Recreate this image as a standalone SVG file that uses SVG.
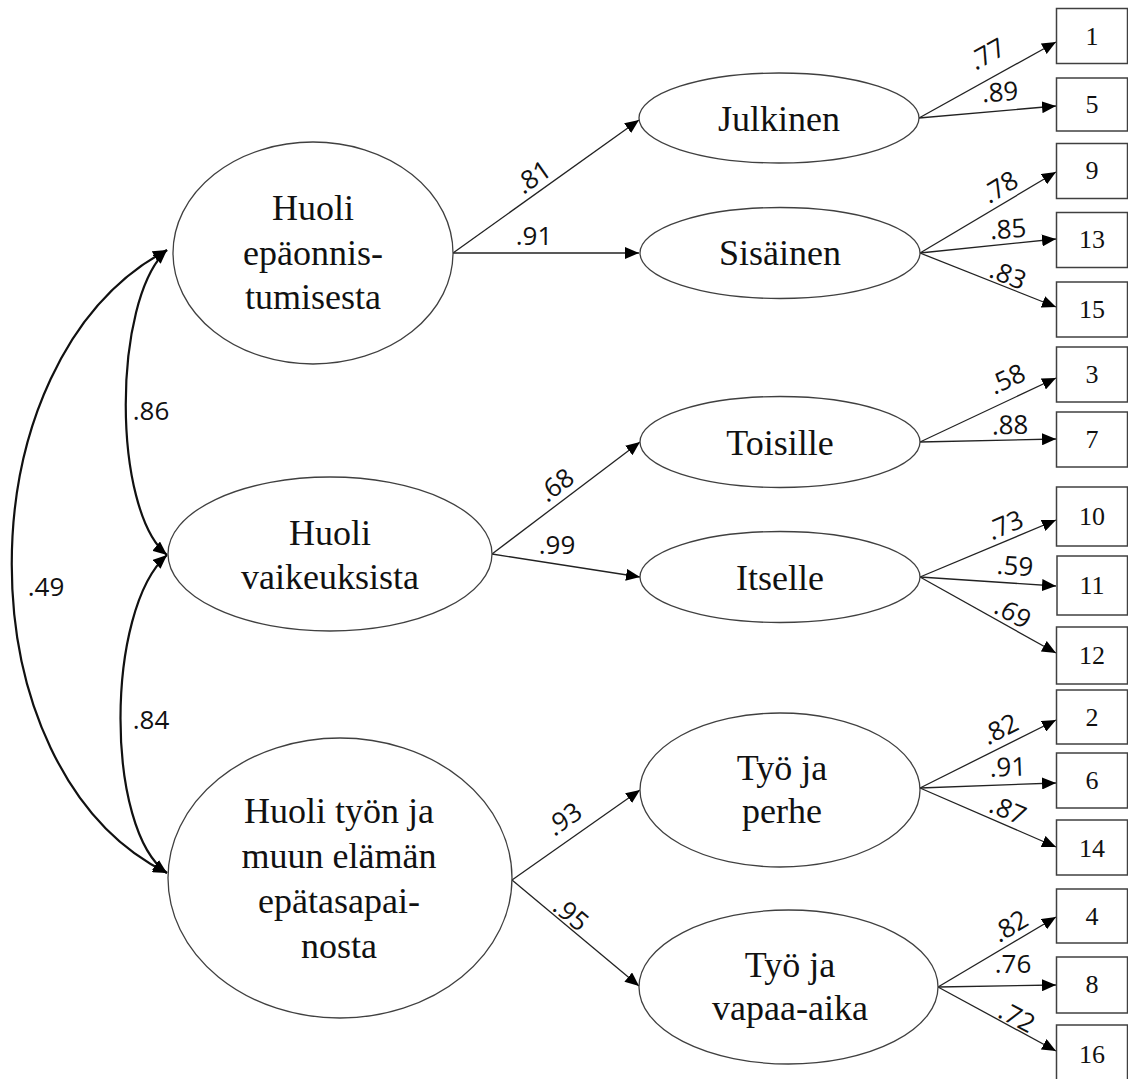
<svg xmlns="http://www.w3.org/2000/svg" width="1128" height="1079" viewBox="0 0 1128 1079">
<style>
.node ellipse{fill:#fff;stroke:#404040;stroke-width:1.3}
.box rect{fill:#fff;stroke:#404040;stroke-width:1.5}
.t{font-family:"Liberation Serif","Times New Roman",serif;font-size:36px;fill:#111;text-anchor:middle}
.bt{font-family:"Liberation Serif","Times New Roman",serif;font-size:26px;fill:#111;text-anchor:middle}
.lab{font-family:"Open Sans","DejaVu Sans",sans-serif;font-size:26px;fill:#111;text-anchor:middle}
.ln{stroke:#222;stroke-width:1.3;fill:none;marker-end:url(#ah)}
.cv{stroke:#111;stroke-width:2.2;fill:none;marker-start:url(#ahc);marker-end:url(#ahc)}
</style>
<defs>
<marker id="ah" viewBox="0 0 14 12" refX="14" refY="6" markerWidth="14" markerHeight="12" markerUnits="userSpaceOnUse" orient="auto"><path d="M0,0 L14,6 L0,12 z" fill="#000"/></marker>
<marker id="ahc" viewBox="0 0 14 12" refX="14" refY="6" markerWidth="14" markerHeight="12" markerUnits="userSpaceOnUse" orient="auto-start-reverse"><path d="M0,0 L14,6 L0,12 z" fill="#000"/></marker>
</defs>
<rect width="1128" height="1079" fill="#fff"/>

<g id="connectors">
<path class="cv" d="M167,250 C112,300 112,510 167,555"/>
<path class="cv" d="M167,555 C105,610 105,830 167,873"/>
<path class="cv" d="M167,250 C-40,360 -40,770 167,873"/>
<line class="ln" x1="453" y1="253" x2="639" y2="120"/>
<line class="ln" x1="453" y1="253" x2="639" y2="253"/>
<line class="ln" x1="492" y1="554" x2="640" y2="442"/>
<line class="ln" x1="492" y1="554" x2="640" y2="577"/>
<line class="ln" x1="512" y1="880" x2="640" y2="790"/>
<line class="ln" x1="512" y1="880" x2="639" y2="986"/>
<line class="ln" x1="919" y1="118" x2="1056" y2="42"/>
<line class="ln" x1="919" y1="118" x2="1056" y2="106"/>
<line class="ln" x1="920" y1="253" x2="1056" y2="172"/>
<line class="ln" x1="920" y1="253" x2="1056" y2="239"/>
<line class="ln" x1="920" y1="253" x2="1056" y2="307"/>
<line class="ln" x1="920" y1="442" x2="1056" y2="378"/>
<line class="ln" x1="920" y1="442" x2="1056" y2="439"/>
<line class="ln" x1="920" y1="577" x2="1056" y2="520"/>
<line class="ln" x1="920" y1="577" x2="1056" y2="586"/>
<line class="ln" x1="920" y1="577" x2="1056" y2="653"/>
<line class="ln" x1="920" y1="788" x2="1056" y2="720"/>
<line class="ln" x1="920" y1="788" x2="1056" y2="783"/>
<line class="ln" x1="920" y1="788" x2="1056" y2="847"/>
<line class="ln" x1="938" y1="987" x2="1056" y2="917"/>
<line class="ln" x1="938" y1="987" x2="1056" y2="985"/>
<line class="ln" x1="938" y1="987" x2="1056" y2="1051"/>
<g class="lab">
<text x="151" y="411" dy="0.35em">.86</text>
<text x="151" y="720" dy="0.35em">.84</text>
<text x="46" y="587" dy="0.35em">.49</text>
<text transform="translate(533,177) rotate(-35)" dy="0.35em">.81</text>
<text x="534" y="236" dy="0.35em">.91</text>
<text transform="translate(556,485) rotate(-37)" dy="0.35em">.68</text>
<text x="557" y="545" dy="0.35em">.99</text>
<text transform="translate(564,819) rotate(-35)" dy="0.35em">.93</text>
<text transform="translate(571,914) rotate(40)" dy="0.35em">.95</text>
<text transform="translate(987,54) rotate(-29)" dy="0.35em">.77</text>
<text transform="translate(1000,92) rotate(-4)" dy="0.35em">.89</text>
<text transform="translate(1000,187) rotate(-31)" dy="0.35em">.78</text>
<text transform="translate(1008,229) rotate(-4)" dy="0.35em">.85</text>
<text transform="translate(1008,275) rotate(22)" dy="0.35em">.83</text>
<text transform="translate(1007,379) rotate(-25)" dy="0.35em">.58</text>
<text transform="translate(1010,425) rotate(-1)" dy="0.35em">.88</text>
<text transform="translate(1005,525) rotate(-23)" dy="0.35em">.73</text>
<text transform="translate(1015,566) rotate(4)" dy="0.35em">.59</text>
<text transform="translate(1013,613) rotate(29)" dy="0.35em">.69</text>
<text transform="translate(1000,729) rotate(-27)" dy="0.35em">.82</text>
<text transform="translate(1008,767) rotate(-2)" dy="0.35em">.91</text>
<text transform="translate(1008,810) rotate(23)" dy="0.35em">.87</text>
<text transform="translate(1010,926) rotate(-31)" dy="0.35em">.82</text>
<text transform="translate(1013,964) rotate(0)" dy="0.35em">.76</text>
<text transform="translate(1017,1017) rotate(28)" dy="0.35em">.72</text>
</g>
</g>

<g id="n-epaonnistuminen" class="node"><ellipse cx="313" cy="253" rx="140" ry="111"/>
<text class="t" x="313" y="220">Huoli</text><text class="t" x="313" y="265">epäonnis-</text><text class="t" x="313" y="309">tumisesta</text></g>
<g id="n-vaikeudet" class="node"><ellipse cx="330" cy="554" rx="162" ry="77"/>
<text class="t" x="330" y="545">Huoli</text><text class="t" x="330" y="589">vaikeuksista</text></g>
<g id="n-tasapaino" class="node"><ellipse cx="340" cy="878" rx="172" ry="140"/>
<text class="t" x="339" y="823">Huoli työn ja</text><text class="t" x="339" y="868">muun elämän</text><text class="t" x="339" y="913">epätasapai-</text><text class="t" x="339" y="958">nosta</text></g>
<g id="n-julkinen" class="node"><ellipse cx="779" cy="118" rx="140" ry="45"/><text class="t" x="779" y="131">Julkinen</text></g>
<g id="n-sisainen" class="node"><ellipse cx="780" cy="253" rx="140" ry="45.5"/><text class="t" x="780" y="265">Sisäinen</text></g>
<g id="n-toisille" class="node"><ellipse cx="780" cy="442" rx="140" ry="45.5"/><text class="t" x="780" y="455">Toisille</text></g>
<g id="n-itselle" class="node"><ellipse cx="780" cy="577" rx="140" ry="45.5"/><text class="t" x="780" y="590">Itselle</text></g>
<g id="n-perhe" class="node"><ellipse cx="780" cy="790" rx="140" ry="77"/><text class="t" x="782" y="780">Työ ja</text><text class="t" x="782" y="823">perhe</text></g>
<g id="n-vapaa" class="node"><ellipse cx="788.5" cy="987" rx="149.5" ry="77"/><text class="t" x="790" y="977">Työ ja</text><text class="t" x="790" y="1020">vapaa-aika</text></g>

<g id="b1" class="box"><rect x="1056.5" y="8.5" width="71" height="55"/><text class="bt" x="1092" y="45">1</text></g>
<g id="b5" class="box"><rect x="1056.5" y="78" width="71" height="53"/><text class="bt" x="1092" y="113">5</text></g>
<g id="b9" class="box"><rect x="1056.5" y="143.5" width="71" height="55"/><text class="bt" x="1092" y="179">9</text></g>
<g id="b13" class="box"><rect x="1056.5" y="212.5" width="71" height="55"/><text class="bt" x="1092" y="248">13</text></g>
<g id="b15" class="box"><rect x="1056.5" y="282" width="71" height="55"/><text class="bt" x="1092" y="318">15</text></g>
<g id="b3" class="box"><rect x="1056.5" y="347" width="71" height="55"/><text class="bt" x="1092" y="383">3</text></g>
<g id="b7" class="box"><rect x="1056.5" y="412" width="71" height="55"/><text class="bt" x="1092" y="448">7</text></g>
<g id="b10" class="box"><rect x="1056.5" y="487" width="71" height="59"/><text class="bt" x="1092" y="525">10</text></g>
<g id="b11" class="box"><rect x="1057" y="556" width="70.5" height="59"/><text class="bt" x="1092" y="594">11</text></g>
<g id="b12" class="box"><rect x="1056.5" y="627" width="71" height="57"/><text class="bt" x="1092" y="664">12</text></g>
<g id="b2" class="box"><rect x="1056.5" y="690" width="71" height="54"/><text class="bt" x="1092" y="726">2</text></g>
<g id="b6" class="box"><rect x="1056.5" y="753" width="71" height="55"/><text class="bt" x="1092" y="789">6</text></g>
<g id="b14" class="box"><rect x="1056.5" y="820" width="71" height="55"/><text class="bt" x="1092" y="857">14</text></g>
<g id="b4" class="box"><rect x="1056.5" y="889" width="71" height="54"/><text class="bt" x="1092" y="925">4</text></g>
<g id="b8" class="box"><rect x="1056.5" y="957" width="71" height="56"/><text class="bt" x="1092" y="993">8</text></g>
<g id="b16" class="box"><rect x="1056.5" y="1025" width="71" height="60"/><text class="bt" x="1092" y="1063">16</text></g>
</svg>
